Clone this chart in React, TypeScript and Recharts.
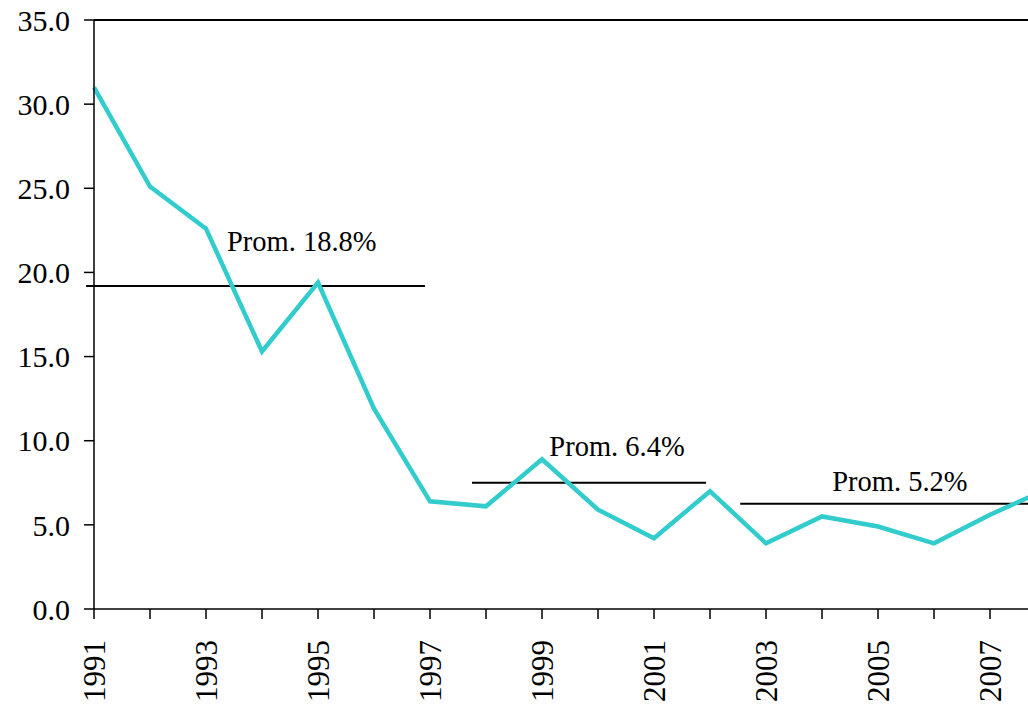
import React from 'react';
import {
  LineChart,
  Line,
  XAxis,
  YAxis,
  ReferenceLine,
  ReferenceDot
} from 'recharts';

const years = [1991, 1992, 1993, 1994, 1995, 1996, 1997, 1998, 1999, 2000, 2001, 2002, 2003, 2004, 2005, 2006, 2007, 2008];
const values = [31.0, 25.1, 22.6, 15.3, 19.4, 11.9, 6.4, 6.1, 8.9, 5.9, 4.2, 7.0, 3.9, 5.5, 4.9, 3.9, 5.6, 7.1];
const yTicks = [0, 5, 10, 15, 20, 25, 30, 35];

// average bars: start year, end year, level
const avgFrom = [1990.86, 1997.75, 2002.54];
const avgTo = [1996.91, 2001.93, 2008];
const avgLevel = [19.2, 7.5, 6.25];

// average labels: text, centre year, centre value
const avgText = ['Prom. 18.8%', 'Prom. 6.4%', 'Prom. 5.2%'];
const avgTextX = [1994.71, 2000.34, 2005.39];
const avgTextY = [21.9, 9.7, 7.6];

const data = years.map((year, i) => ({ year, v: values[i] }));

const FONT = '"Liberation Serif", "Times New Roman", serif';

const YearTick = (props: any) => {
  const { x, y, payload } = props;
  const yr = payload.value;
  if (yr % 2 === 0) return null;
  return (
    <g transform={`translate(${x},${y})`}>
      <text
        transform="rotate(-90)"
        x={-11}
        y={0}
        dy="0.35em"
        textAnchor="end"
        fill="#000"
        fontSize={31}
        fontFamily={FONT}
      >
        {yr}
      </text>
    </g>
  );
};

export default function App() {
  return (
    <div style={{ position: 'absolute', left: 0, top: 0, width: 1028, height: 709, overflow: 'hidden', background: '#fff' }}>
      <LineChart
        width={1060}
        height={709}
        data={data}
        margin={{ top: 20, right: 14, bottom: 0, left: 0 }}
      >
        <XAxis
          dataKey="year"
          type="number"
          domain={[1991, 2008]}
          ticks={years}
          interval={0}
          height={100}
          tickSize={10}
          tickMargin={10}
          axisLine={{ stroke: '#000', strokeWidth: 1.5 }}
          tickLine={{ stroke: '#000', strokeWidth: 1.5 }}
          tick={<YearTick />}
        />
        <YAxis
          domain={[0, 35]}
          ticks={yTicks}
          width={94}
          tickSize={10}
          tickMargin={14}
          tickFormatter={(v: number) => v.toFixed(1)}
          axisLine={{ stroke: '#000', strokeWidth: 1.5 }}
          tickLine={{ stroke: '#000', strokeWidth: 1.5 }}
          tick={{ fill: '#000', fontSize: 30, fontFamily: FONT }}
        />
        <ReferenceLine y={35} stroke="#000" strokeWidth={2} />
        {avgLevel.map((lvl, i) => (
          <ReferenceLine
            key={'avg' + i}
            segment={[{ x: avgFrom[i], y: lvl }, { x: avgTo[i], y: lvl }]}
            stroke="#000"
            strokeWidth={2}
            ifOverflow="visible"
          />
        ))}
        <Line
          type="linear"
          dataKey="v"
          stroke="#33CCCC"
          strokeWidth={4.5}
          dot={false}
          isAnimationActive={false}
        />
        {avgText.map((t, i) => (
          <ReferenceDot
            key={'lbl' + i}
            x={avgTextX[i]}
            y={avgTextY[i]}
            r={0}
            stroke="none"
            fill="none"
            label={{ value: t, position: 'center', fill: '#000', fontSize: 28.5, fontFamily: FONT }}
          />
        ))}
      </LineChart>
    </div>
  );
}
